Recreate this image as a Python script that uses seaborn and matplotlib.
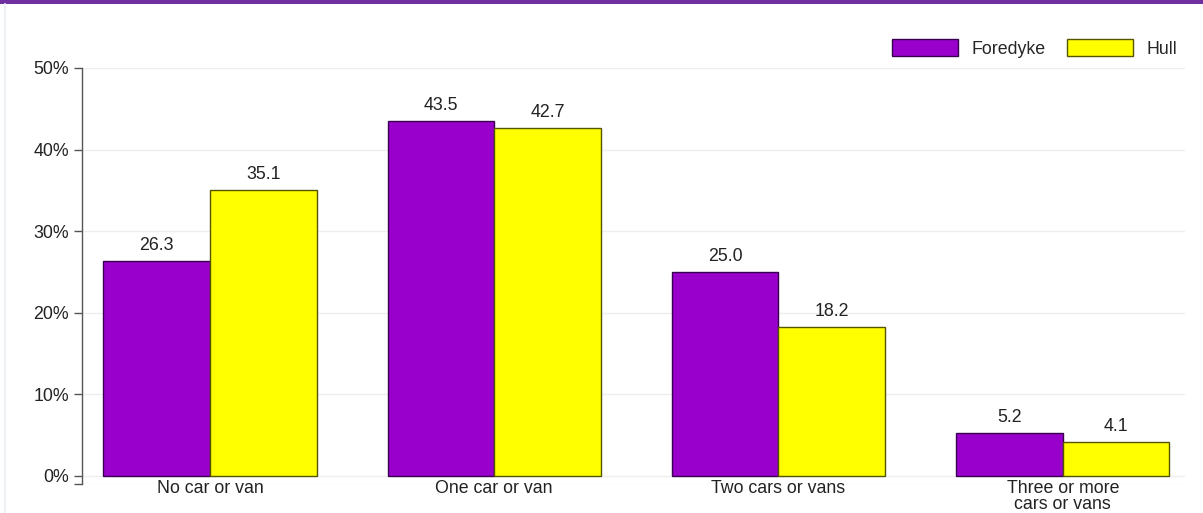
import matplotlib
matplotlib.use("Agg")
import matplotlib.pyplot as plt
import seaborn as sns
import pandas as pd
from matplotlib.patches import Rectangle
from matplotlib.lines import Line2D

categories = ["No car or van", "One car or van", "Two cars or vans", "Three or more\ncars or vans"]
foredyke = [26.3, 43.5, 25.0, 5.2]
hull = [35.1, 42.7, 18.2, 4.1]
series_names = ["Foredyke", "Hull"]
colors = ["#9900CC", "#FFFF00"]
edges = ["#3A0050", "#555500"]
yticks = [0, 10, 20, 30, 40, 50]
ytick_labels = ["0%", "10%", "20%", "30%", "40%", "50%"]

df = pd.DataFrame({
    "category": categories * 2,
    "value": foredyke + hull,
    "series": [series_names[0]] * 4 + [series_names[1]] * 4,
})

sns.set_style("white")
plt.rcParams["font.family"] = ["Liberation Sans", "DejaVu Sans"]
FS = 12.8

fig = plt.figure(figsize=(12.03, 5.13), dpi=100)
ax = fig.add_axes([82 / 1203, 1 - 484 / 513, (1185 - 82) / 1203, (484 - 68) / 513])

sns.barplot(data=df, x="category", y="value", hue="series", order=categories,
            hue_order=series_names, palette=colors, width=0.75, ax=ax,
            legend=False, saturation=1, errorbar=None)

for i, cont in enumerate(ax.containers):
    for bar in cont:
        bar.set_edgecolor(edges[i])
        bar.set_linewidth(1.0)
    ax.bar_label(cont, labels=[f"{v:.1f}" for v in cont.datavalues], padding=5,
                 fontsize=FS, color="#222222")

ax.set_xlim(-0.45, 3.43)
ax.set_ylim(-1, 50)
ax.set_yticks(yticks)
ax.set_yticklabels(ytick_labels, fontsize=FS, color="#222222")
ax.set_yticks([-1], minor=True)
ax.tick_params(axis="y", which="both", direction="out", length=6, width=1, color="#555555", left=True)
ax.tick_params(axis="x", length=0, pad=-3, labelsize=FS, labelcolor="#222222")
for lab in ax.get_xticklabels():
    lab.set_linespacing(0.9)
    lab.set_verticalalignment("top")
ax.set_xlabel("")
ax.set_ylabel("")

for y in yticks:
    ax.axhline(y, color="#EEEEEE", linewidth=1, zorder=0)
ax.axhline(-1, color="#E6ECF0", linewidth=1, zorder=0)

for s in ["top", "right", "bottom"]:
    ax.spines[s].set_visible(False)
ax.spines["left"].set_color("#555555")
ax.spines["left"].set_linewidth(1)

handles = [Rectangle((0, 0), 1, 1, facecolor=colors[i], edgecolor=edges[i], linewidth=1)
           for i in range(2)]
fig.legend(handles, series_names, loc="upper right", bbox_to_anchor=(1184 / 1203, 1 - 32 / 513),
           ncol=2, frameon=False, fontsize=FS, handlelength=3.7, handleheight=1.1,
           columnspacing=1.2, handletextpad=0.75, borderaxespad=0)

fig.patches.append(Rectangle((0, 1 - 4 / 513), 1, 4 / 513, transform=fig.transFigure,
                             facecolor="#7030A0", edgecolor="none"))
fig.lines.append(Line2D([5 / 1203, 5 / 1203], [0, 1 - 4 / 513], transform=fig.transFigure,
                        color="#EEF2F4", linewidth=1.5))

fig.savefig("out.png", dpi=100)
